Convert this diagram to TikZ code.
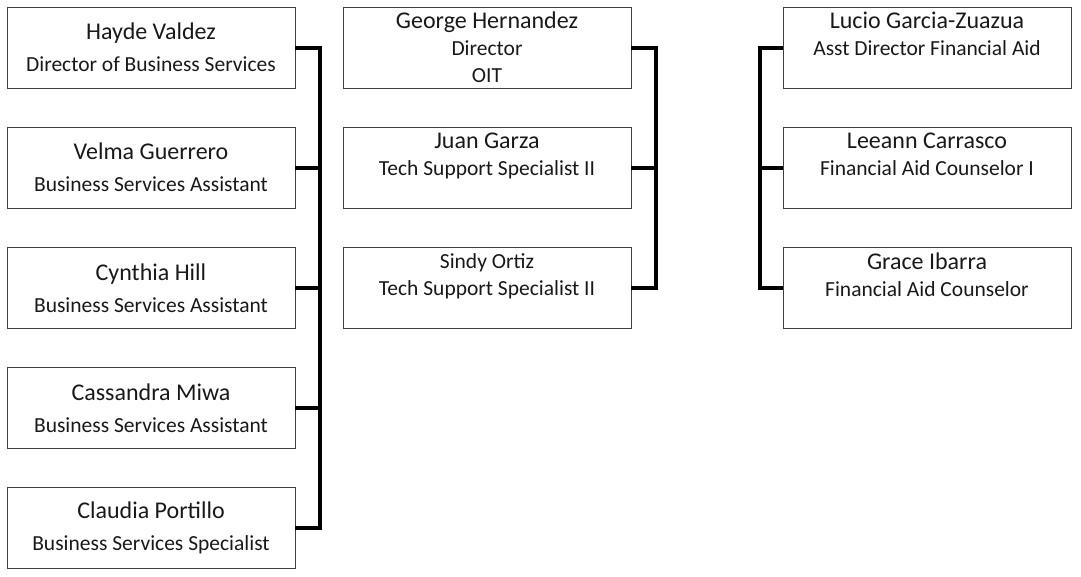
\documentclass[tikz,border=0pt]{standalone}
\usepackage{fontspec}
\setmainfont{Carlito}
\tikzset{
  card/.style={draw=black!75, line width=0.9pt, minimum width=288pt, minimum height=81pt,
    inner sep=0pt, align=center, text=black!90, font=\fontsize{21.5}{27}\selectfont},
  link/.style={line width=4pt, black},
}
\newcommand{\who}[1]{{\fontsize{24}{27}\selectfont #1}}

\begin{document}
\begin{tikzpicture}[x=1pt,y=-1pt]
\useasboundingbox (0,0) rectangle (1081,576);
% business services
\node[card] (hayde) at (151,47.5) {\who{Hayde Valdez}\\[5pt]Director of Business Services};
\node[card] (velma) at (151,167.7) {\who{Velma Guerrero}\\[5pt]Business Services Assistant};
\node[card] (cynthia) at (151,287.9) {\who{Cynthia Hill}\\[5pt]Business Services Assistant};
\node[card] (cassandra) at (151,408.1) {\who{Cassandra Miwa}\\[5pt]Business Services Assistant};
\node[card] (claudia) at (151,528.3) {\who{Claudia Portillo}\\[5pt]Business Services Specialist};
% OIT
\node[card] (george) at (487,47.5) {\who{George Hernandez}\\Director\\OIT};
\node[card] (juan) at (487,167.7) {\who{Juan Garza}\\Tech Support Specialist II\\\mbox{}};
\node[card] (sindy) at (487,287.9) {Sindy Ortiz\\Tech Support Specialist II\\\mbox{}};
% financial aid
\node[card] (lucio) at (927,47.5) {\who{Lucio Garcia-Zuazua}\\Asst Director Financial Aid\\\mbox{}};
\node[card] (leeann) at (927,167.7) {\who{Leeann Carrasco}\\Financial Aid Counselor I\\\mbox{}};
\node[card] (grace) at (927,287.9) {\who{Grace Ibarra}\\Financial Aid Counselor\\\mbox{}};
% lines
\coordinate (lbus) at (320,47.5);
\draw[link] (hayde.east) -- (lbus) |- (claudia.east);
\foreach \n in {velma,cynthia,cassandra}
  \draw[link] (\n.east) -- (\n.east -| lbus);
\coordinate (mbus) at (656,47.5);
\draw[link] (george.east) -- (mbus) |- (sindy.east);
\draw[link] (juan.east) -- (juan.east -| mbus);
\coordinate (rbus) at (760,47.5);
\draw[link] (lucio.west) -- (rbus) |- (grace.west);
\draw[link] (leeann.west) -- (leeann.west -| rbus);
\end{tikzpicture}
\end{document}
